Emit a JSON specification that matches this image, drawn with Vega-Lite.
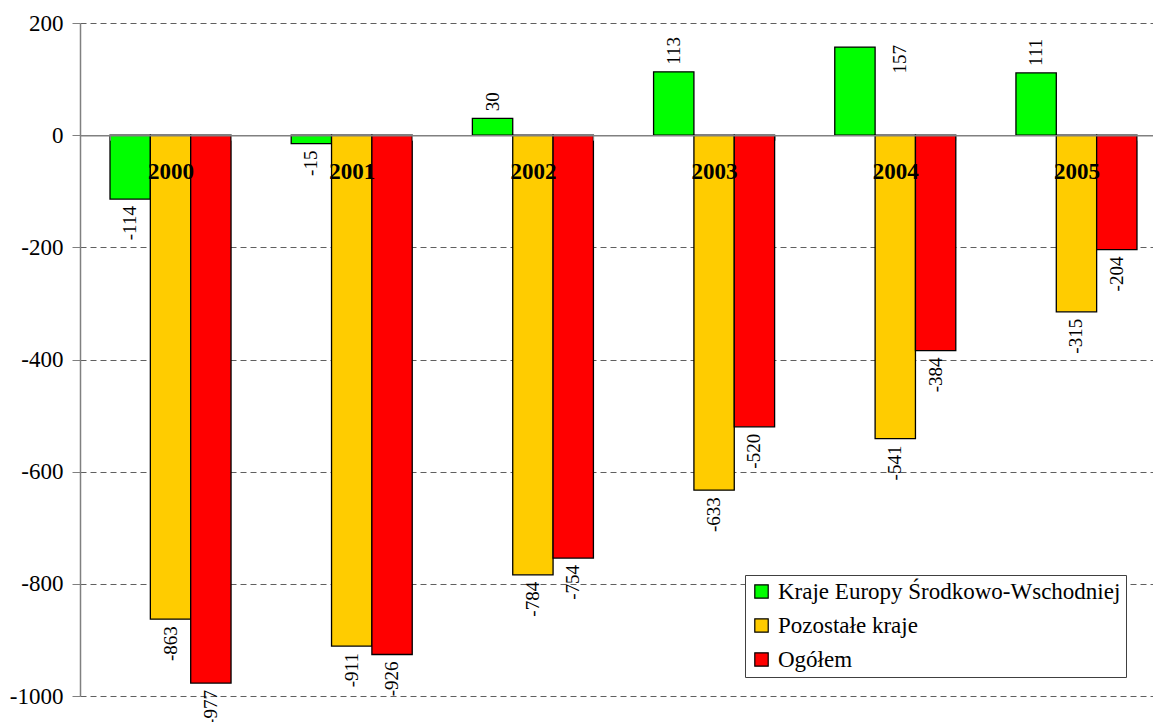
{
  "$schema": "https://vega.github.io/schema/vega-lite/v6.json",
  "width": 1073,
  "height": 673,
  "autosize": {"type": "none"},
  "padding": {"left": 80, "top": 23, "right": 0, "bottom": 26},
  "background": "white",
  "config": {
    "view": {"stroke": null},
    "font": "Liberation Serif",
    "legend": {
      "orient": "none",
      "legendX": 665,
      "legendY": 552,
      "strokeColor": "#404040",
      "fillColor": "white",
      "padding": 5,
      "symbolType": "square",
      "symbolSize": 180,
      "symbolStrokeColor": "black",
      "symbolStrokeWidth": 1.2,
      "symbolOpacity": 1,
      "labelFont": "Liberation Serif",
      "labelFontSize": 23,
      "labelColor": "black",
      "labelLimit": 500,
      "labelOffset": 5,
      "rowPadding": 10,
      "title": null
    }
  },
  "data": {
    "values": [
      {"year": "2000", "series": "Kraje Europy Środkowo-Wschodniej", "value": -114},
      {"year": "2000", "series": "Pozostałe kraje", "value": -863},
      {"year": "2000", "series": "Ogółem", "value": -977},
      {"year": "2001", "series": "Kraje Europy Środkowo-Wschodniej", "value": -15},
      {"year": "2001", "series": "Pozostałe kraje", "value": -911},
      {"year": "2001", "series": "Ogółem", "value": -926},
      {"year": "2002", "series": "Kraje Europy Środkowo-Wschodniej", "value": 30},
      {"year": "2002", "series": "Pozostałe kraje", "value": -784},
      {"year": "2002", "series": "Ogółem", "value": -754},
      {"year": "2003", "series": "Kraje Europy Środkowo-Wschodniej", "value": 113},
      {"year": "2003", "series": "Pozostałe kraje", "value": -633},
      {"year": "2003", "series": "Ogółem", "value": -520},
      {"year": "2004", "series": "Kraje Europy Środkowo-Wschodniej", "value": 157},
      {"year": "2004", "series": "Pozostałe kraje", "value": -541},
      {"year": "2004", "series": "Ogółem", "value": -384},
      {"year": "2005", "series": "Kraje Europy Środkowo-Wschodniej", "value": 111},
      {"year": "2005", "series": "Pozostałe kraje", "value": -315},
      {"year": "2005", "series": "Ogółem", "value": -204}
    ]
  },
  "encoding": {
    "x": {
      "field": "year",
      "type": "nominal",
      "scale": {"type": "band", "paddingInner": 0.332, "paddingOuter": 0.127, "align": 0.652},
      "axis": {
        "orient": "bottom",
        "offset": -560.83,
        "title": null,
        "labelAngle": 0,
        "labelFont": "Liberation Serif",
        "labelFontSize": 23,
        "labelFontWeight": "bold",
        "labelColor": "black",
        "labelPadding": 20,
        "tickBand": "extent",
        "tickSize": 5,
        "tickColor": "#808080",
        "domainColor": "#808080",
        "domainWidth": 1.5,
        "zindex": 1,
        "grid": false
      }
    },
    "xOffset": {
      "field": "series",
      "type": "nominal",
      "scale": {"domain": ["Kraje Europy Środkowo-Wschodniej", "Pozostałe kraje", "Ogółem"], "paddingInner": 0, "paddingOuter": 0}
    },
    "y": {
      "field": "value",
      "type": "quantitative",
      "scale": {"domain": [-1000, 200], "nice": false, "zero": false},
      "axis": {
        "title": null,
        "values": [-1000, -800, -600, -400, -200, 0, 200],
        "labelExpr": "datum.value + ''",
        "labelFont": "Liberation Serif",
        "labelFontSize": 23,
        "labelColor": "black",
        "labelPadding": 9,
        "tickSize": 8,
        "tickColor": "#808080",
        "domainColor": "#808080",
        "domainWidth": 1.5,
        "grid": true,
        "gridDash": [6, 4],
        "gridColor": "#606060",
        "gridWidth": 1
      }
    }
  },
  "layer": [
    {
      "mark": {"type": "bar", "stroke": "black", "strokeWidth": 1.3},
      "encoding": {
        "color": {
          "field": "series",
          "type": "nominal",
          "scale": {
            "domain": ["Kraje Europy Środkowo-Wschodniej", "Pozostałe kraje", "Ogółem"],
            "range": ["#00ff00", "#ffcc00", "#ff0000"]
          },
          "legend": {"title": null}
        }
      }
    },
    {
      "transform": [{"filter": "datum.value < 0"}],
      "mark": {"type": "text", "angle": 270, "align": "right", "baseline": "middle", "dx": -7, "font": "Liberation Serif", "fontSize": 19, "color": "black"},
      "encoding": {"text": {"field": "value", "type": "nominal"}}
    },
    {
      "transform": [{"filter": "datum.value >= 0 && datum.value < 150"}],
      "mark": {"type": "text", "angle": 270, "align": "left", "baseline": "middle", "dx": 7, "font": "Liberation Serif", "fontSize": 19, "color": "black"},
      "encoding": {"text": {"field": "value", "type": "nominal"}}
    },
    {
      "transform": [{"filter": "datum.value >= 150"}],
      "mark": {"type": "text", "angle": 270, "align": "right", "baseline": "middle", "dx": 2, "dy": 45, "font": "Liberation Serif", "fontSize": 19, "color": "black"},
      "encoding": {"text": {"field": "value", "type": "nominal"}}
    }
  ]
}
